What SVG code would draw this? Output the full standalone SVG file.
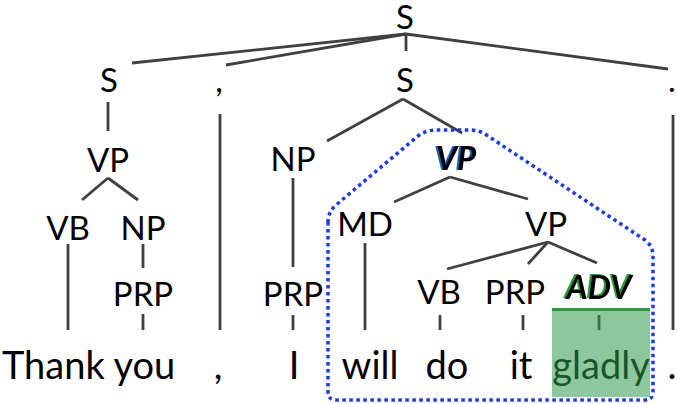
<svg xmlns="http://www.w3.org/2000/svg" width="677" height="404" viewBox="0 0 677 404">
<style>
.lbl{font-family:Lato,"Liberation Sans",sans-serif;font-size:33px;fill:#000;text-anchor:middle}
.wd{font-family:Lato,"Liberation Sans",sans-serif;font-size:38px;fill:#000;text-anchor:middle}
.bi{font-family:Lato,"Liberation Sans",sans-serif;font-size:33px;font-weight:bold;font-style:italic;text-anchor:middle;fill:#000}
.edge line{stroke:#404040;stroke-width:2.8;stroke-linecap:butt}
</style>
<defs>
<filter id="blueShadow" x="-20%" y="-20%" width="140%" height="140%">
<feFlood flood-color="#1b5fb5" result="c"/>
<feComposite in="c" in2="SourceAlpha" operator="in" result="s"/>
<feOffset in="s" dx="-2" dy="0" result="o"/>
<feMerge><feMergeNode in="o"/><feMergeNode in="SourceGraphic"/></feMerge>
</filter>
<filter id="greenShadow" x="-20%" y="-20%" width="140%" height="140%">
<feFlood flood-color="#2a9a3a" result="c"/>
<feComposite in="c" in2="SourceAlpha" operator="in" result="s"/>
<feOffset in="s" dx="-2" dy="-1" result="o"/>
<feMerge><feMergeNode in="o"/><feMergeNode in="SourceGraphic"/></feMerge>
</filter>
</defs>
<rect width="677" height="404" fill="#fff"/>
<g id="connectors" class="edge">
<line x1="406" y1="34" x2="132" y2="63"/>
<line x1="406" y1="34" x2="226" y2="65"/>
<line x1="406" y1="34" x2="406" y2="51"/>
<line x1="406" y1="34" x2="668" y2="69"/>
<line x1="108" y1="102" x2="108" y2="131"/>
<line x1="108" y1="178" x2="82" y2="200"/>
<line x1="108" y1="178" x2="138" y2="200"/>
<line x1="68" y1="244" x2="68" y2="330"/>
<line x1="143" y1="244" x2="143" y2="268"/>
<line x1="143" y1="314" x2="143" y2="330"/>
<line x1="220" y1="114" x2="220" y2="330"/>
<line x1="403" y1="99" x2="327" y2="141"/>
<line x1="403" y1="99" x2="462" y2="133"/>
<line x1="293" y1="178" x2="293" y2="267"/>
<line x1="293" y1="315" x2="293" y2="330"/>
<line x1="450" y1="177" x2="394" y2="202"/>
<line x1="450" y1="177" x2="528" y2="199"/>
<line x1="365" y1="243" x2="365" y2="330"/>
<line x1="548" y1="242" x2="447" y2="269"/>
<line x1="548" y1="242" x2="528" y2="264"/>
<line x1="548" y1="242" x2="597" y2="263"/>
<line x1="440" y1="315" x2="440" y2="330"/>
<line x1="523" y1="315" x2="523" y2="330"/>
<line x1="599" y1="315" x2="599" y2="330"/>
<line x1="673" y1="115" x2="673" y2="330"/>
</g>
<g id="n-S-top"><text class="lbl" x="405" y="29">S</text></g>
<g id="n-S-left"><text class="lbl" x="109" y="92">S</text></g>
<g id="n-comma"><text class="lbl" x="219" y="92">,</text></g>
<g id="n-S-mid"><text class="lbl" x="405" y="92">S</text></g>
<g id="n-period"><text class="lbl" x="672" y="92">.</text></g>
<g id="n-VP-left"><text class="lbl" x="108" y="172">VP</text></g>
<g id="n-VB-left"><text class="lbl" x="68" y="240">VB</text></g>
<g id="n-NP-left"><text class="lbl" x="143" y="240">NP</text></g>
<g id="n-PRP-left"><text class="lbl" x="143" y="306">PRP</text></g>
<g id="n-NP-mid"><text class="lbl" x="293" y="171">NP</text></g>
<g id="n-PRP-mid"><text class="lbl" x="293" y="306">PRP</text></g>
<g id="n-VP-bold"><text class="bi" x="456" y="170" filter="url(#blueShadow)">VP</text></g>
<g id="n-MD"><text class="lbl" x="365" y="236">MD</text></g>
<g id="n-VP-inner"><text class="lbl" x="546" y="236">VP</text></g>
<g id="n-VB-low"><text class="lbl" x="439" y="304">VB</text></g>
<g id="n-PRP-low"><text class="lbl" x="515" y="304">PRP</text></g>
<g id="n-ADV">
<text class="bi" x="599" y="299" filter="url(#greenShadow)">ADV</text>
<rect x="552" y="308" width="98" height="3" fill="#2a9a3a"/>
</g>
<g id="words">
<text class="wd" x="2" y="379" style="text-anchor:start">Thank you</text>
<text class="wd" x="218" y="379">,</text>
<text class="wd" x="294" y="379">I</text>
<text class="wd" x="370" y="379">will</text>
<text class="wd" x="447" y="379">do</text>
<text class="wd" x="521" y="379">it</text>
<text class="wd" x="601" y="379">gladly</text>
<text class="wd" x="672" y="379">.</text>
</g>
<g id="highlight">
<rect x="552" y="311" width="98" height="86" fill="#2e9b4a" fill-opacity="0.55"/>
</g>
<g id="group-outline">
<path d="M328,222 L328,392 Q328,400 336,400 L645,400 Q653,400 653,392 L653,256 Q653,246 645,240 L488,136 Q480,130 470,130 L436,130 Q426,130 418,136 L336,205 Q328,212 328,222 Z" fill="none" stroke="#1f3ae8" stroke-width="3.5" stroke-dasharray="3.5 3.5"/>
</g>
</svg>
